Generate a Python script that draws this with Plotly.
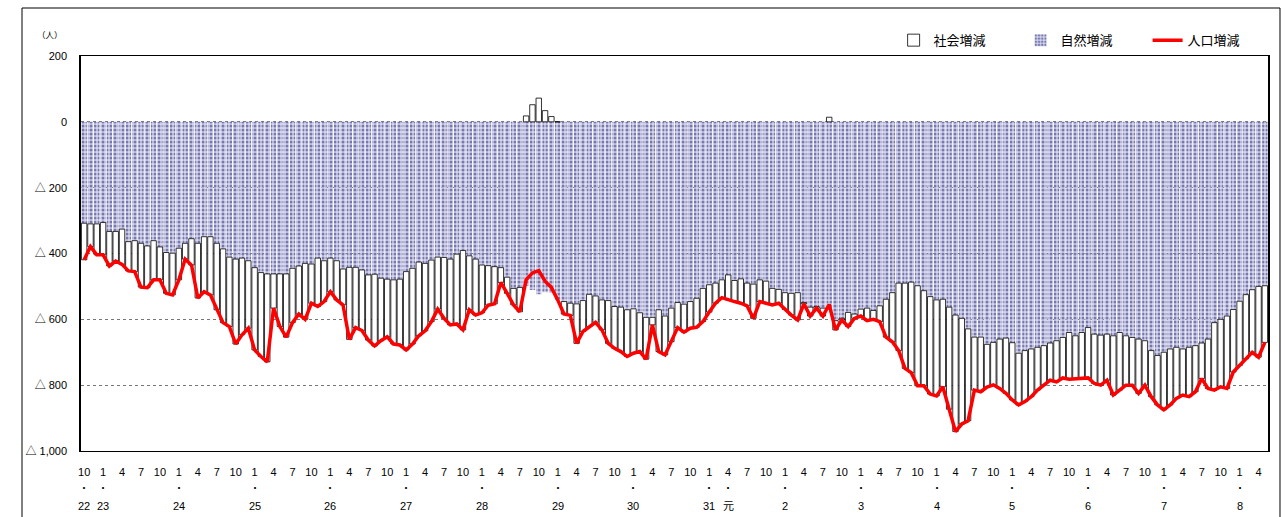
import plotly.graph_objects as go

# Monthly data: Oct 2010 (H22) .. May 2026 (R8), 188 months
natural = [
    -308, -310, -310, -306, -333, -333, -326, -364, -361, -369, -377, -361,
    -380, -397, -399, -384, -369, -355, -369, -349, -349, -369, -386, -411,
    -417, -414, -422, -443, -458, -462, -462, -462, -462, -445, -438, -430,
    -432, -414, -422, -414, -422, -447, -442, -442, -450, -465, -463, -475,
    -478, -480, -478, -455, -445, -426, -430, -420, -411, -412, -417, -402,
    -391, -407, -417, -435, -437, -440, -443, -472, -506, -503, -498, -511,
    -524, -518, -519, -541, -546, -551, -553, -543, -524, -529, -541, -543,
    -561, -563, -571, -568, -580, -594, -594, -571, -590, -566, -549, -554,
    -546, -536, -506, -495, -490, -480, -465, -482, -477, -490, -493, -480,
    -484, -506, -509, -519, -521, -519, -549, -563, -561, -566, -569, -604,
    -597, -579, -584, -569, -566, -573, -559, -539, -519, -490, -490, -487,
    -498, -513, -531, -541, -539, -563, -587, -597, -629, -654, -654, -676,
    -670, -660, -657, -671, -703, -695, -690, -685, -680, -672, -665, -655,
    -640, -650, -640, -625, -645, -648, -645, -650, -640, -650, -655, -660,
    -665, -695, -710, -700, -690, -685, -690, -685, -680, -672, -660, -610,
    -600, -590, -570, -545, -525, -510, -500, -498,
]

total = [
    -419, -379, -404, -404, -438, -423, -433, -453, -455, -502, -504, -480,
    -480, -521, -526, -480, -417, -435, -535, -516, -526, -571, -610, -622,
    -675, -647, -627, -693, -713, -729, -566, -622, -654, -610, -584, -600,
    -551, -561, -546, -516, -541, -556, -661, -625, -634, -663, -681, -665,
    -653, -675, -678, -693, -675, -650, -635, -607, -569, -597, -617, -614,
    -632, -571, -587, -580, -557, -553, -488, -521, -556, -577, -480, -459,
    -452, -484, -503, -541, -584, -588, -673, -637, -622, -609, -632, -673,
    -688, -698, -713, -703, -698, -721, -617, -698, -708, -668, -625, -639,
    -627, -624, -607, -578, -551, -534, -541, -546, -551, -559, -597, -546,
    -551, -556, -551, -570, -587, -602, -553, -590, -566, -590, -555, -632,
    -602, -622, -597, -590, -604, -600, -607, -654, -668, -695, -749, -762,
    -802, -802, -827, -833, -805, -873, -941, -918, -908, -815, -820, -806,
    -799, -810, -825, -845, -860, -850, -835, -815, -800, -785, -790, -778,
    -782, -780, -778, -778, -795, -800, -785, -830, -815, -800, -800, -825,
    -800, -835, -860, -875, -860, -840, -830, -835, -820, -780, -810, -815,
    -805, -810, -760, -740, -720, -700, -715, -670,
]

social = [t - n for t, n in zip(total, natural)]

month_cycle = ["10", "1", "4", "7"]
year_labels = {0: "22", 3: "23", 15: "24", 27: "25", 39: "26", 51: "27", 63: "28",
               75: "29", 87: "30", 99: "31", 102: "元", 111: "2", 123: "3",
               135: "4", 147: "5", 159: "6", 171: "7", 183: "8"}

y_ticks = [200, 0, -200, -400, -600, -800, -1000]
y_text = ["200", "0", "△ 200", "△ 400", "△ 600", "△ 800", "△ 1,000"]

x = list(range(len(natural)))
tickvals = list(range(0, len(natural), 3))
ticktext = [month_cycle[k % 4] for k in range(len(tickvals))]

FONT = "Liberation Sans, Arial, Noto Sans CJK JP, sans-serif"

fig = go.Figure()
fig.add_trace(go.Bar(
    x=x, y=natural, name="自然増減", legendrank=2,
    marker=dict(color="#d4d4ec",
                pattern=dict(shape=".", fgcolor="#1c1c70", bgcolor="#d4d4ec",
                             size=4, solidity=0.45),
                line=dict(width=0)),
))
fig.add_trace(go.Bar(
    x=x, y=social, name="社会増減", legendrank=1,
    marker=dict(color="#ffffff", line=dict(color="#000000", width=0.8)),
))
fig.add_trace(go.Scatter(
    x=x, y=total, name="人口増減", legendrank=3, mode="lines",
    line=dict(color="#ff0000", width=3.5),
))

annotations = []
for pos, lab in year_labels.items():
    annotations.append(dict(x=pos, y=-0.094, xref="x", yref="paper", text="・",
                            xanchor="center", yanchor="middle", showarrow=False,
                            font=dict(size=10, color="#000", family=FONT)))
    annotations.append(dict(x=pos, y=-0.139, xref="x", yref="paper", text=lab,
                            xanchor="center", yanchor="middle", showarrow=False,
                            font=dict(size=11, color="#000", family=FONT)))
annotations.append(dict(x=-0.026, y=1.0555, xref="paper", yref="paper", text="（人）",
                        xanchor="center", yanchor="middle", showarrow=False,
                        font=dict(size=8.5, color="#000", family="Noto Sans CJK JP")))

fig.update_layout(
    width=1285, height=517,
    margin=dict(l=81, r=17, t=56, b=66, autoexpand=False),
    paper_bgcolor="white", plot_bgcolor="white",
    barmode="relative", bargap=0.14,
    font=dict(family=FONT, size=11, color="#000"),
    showlegend=True,
    legend=dict(orientation="h", x=0.6846, xanchor="left", y=1.04, yanchor="middle",
                font=dict(size=13, family="Noto Sans CJK JP"), bgcolor="rgba(0,0,0,0)",
                entrywidth=82, entrywidthmode="pixels", traceorder="normal"),
    annotations=annotations,
    shapes=[dict(type="rect", xref="paper", yref="paper",
                 x0=-0.0497, x1=1.0101, y0=-0.3, y1=1.1215,
                 line=dict(color="#000", width=1), layer="below")],
)
fig.update_xaxes(range=[-0.5, len(natural) - 0.5], tickvals=tickvals, ticktext=ticktext,
                 showgrid=False, zeroline=False, showline=True, linecolor="#000",
                 linewidth=1, mirror=True, ticks="", ticklabelstandoff=11,
                 tickangle=0, tickfont=dict(size=11), automargin=False)
fig.update_yaxes(range=[-1000, 200], tickvals=y_ticks, ticktext=y_text,
                 showgrid=True, gridcolor="#777", griddash="dot", gridwidth=1,
                 zeroline=False, showline=True, linecolor="#000", linewidth=1.5,
                 mirror=True, ticks="", ticklabelstandoff=10, tickfont=dict(size=11),
                 automargin=False)

fig.write_html("out.html", post_script="document.body.style.margin='0';",
               config={"displayModeBar": False})
